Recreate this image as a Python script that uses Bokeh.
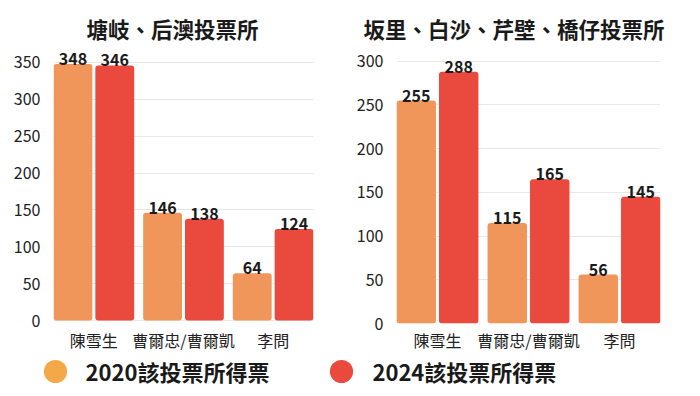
from bokeh.plotting import figure
from bokeh.models import (FactorRange, Range1d, ColumnDataSource, Legend, LegendItem,
                          FixedTicker)
from bokeh.transform import dodge
from bokeh.layouts import column, row
from bokeh.embed import file_html
from bokeh.resources import INLINE
from bokeh.core.properties import value

# ---------------- data ----------------
candidates = ["陳雪生", "曹爾忠/曹爾凱", "李問"]
series = ["2020該投票所得票", "2024該投票所得票"]

left_title = "塘岐、后澳投票所"
left_2020 = [348, 146, 64]
left_2024 = [346, 138, 124]
left_ticks = [0, 50, 100, 150, 200, 250, 300, 350]

right_title = "坂里、白沙、芹壁、橋仔投票所"
right_2020 = [255, 115, 56]
right_2024 = [288, 165, 145]
right_ticks = [0, 50, 100, 150, 200, 250, 300]

# ---------------- style ----------------
FONT = "Noto Sans CJK TC"
C2020 = "#F0965A"
C2024 = "#EA4A3E"
L2020 = "#F4A848"
L2024 = "#EA4A3E"
TXT = "#1a1a1a"
TOP_H = 354


def make_chart(title, v20, v24, ystart, ymax, ticks, bl, br, bt, bb, title_offset):
    src = ColumnDataSource(dict(
        cand=candidates, v20=v20, v24=v24,
        t20=[str(v) for v in v20], t24=[str(v) for v in v24]))
    p = figure(
        x_range=FactorRange(factors=candidates, range_padding=-0.05,
                            range_padding_units="absolute"),
        y_range=Range1d(ystart, ymax),
        width=350, height=TOP_H, output_backend="svg", toolbar_location=None,
        min_border_left=bl, min_border_right=br, min_border_top=bt,
        min_border_bottom=bb)
    p.outline_line_color = None
    p.background_fill_color = "white"
    p.border_fill_color = "white"

    x20 = dodge("cand", -0.2333, range=p.x_range)
    x24 = dodge("cand", 0.2333, range=p.x_range)
    p.vbar(x=x20, top="v20", bottom=0, width=0.4333, source=src,
           fill_color=C2020, line_color=None, border_radius=3)
    p.vbar(x=x24, top="v24", bottom=0, width=0.4333, source=src,
           fill_color=C2024, line_color=None, border_radius=3)
    for x, col in ((x20, "t20"), (x24, "t24")):
        p.text(x=x, y=col.replace("t", "v"), text=col, source=src,
               text_align="center", text_baseline="alphabetic", y_offset=-5,
               text_font=value(FONT), text_font_style="bold",
               text_font_size="16px", text_color=TXT)

    p.title.text = title
    p.title.text_font = FONT
    p.title.text_font_size = "21.5px"
    p.title.text_font_style = "bold"
    p.title.text_color = TXT
    p.title.align = "left"
    p.title.offset = title_offset
    p.title.standoff = 4

    p.xgrid.grid_line_color = None
    p.ygrid.grid_line_color = "#e8e8e8"
    p.yaxis.ticker = FixedTicker(ticks=ticks)
    for ax in (p.xaxis, p.yaxis):
        ax.axis_line_color = None
        ax.major_tick_line_color = None
        ax.minor_tick_line_color = None
        ax.major_tick_out = 0
        ax.major_tick_in = 0
        ax.minor_tick_out = 0
        ax.minor_tick_in = 0
        ax.major_label_text_font = FONT
        ax.major_label_text_font_size = "16px"
        ax.major_label_text_color = "#222222"
    p.xaxis.major_label_standoff = 4
    p.yaxis.major_label_standoff = 13
    return p


# both frames share the same bottom edge in a row; the left zero line sits 3px higher
p1 = make_chart(left_title, left_2020, left_2024, -4.05, 373, left_ticks,
                53, 37, 45, 30, 33)
p2 = make_chart(right_title, right_2020, right_2024, 0, 318, right_ticks,
                46, 40, 45, 30, -33)

# ---------------- legend strip ----------------
pl = figure(width=700, height=396 - TOP_H, output_backend="svg",
            toolbar_location=None,
            x_range=Range1d(0, 1), y_range=Range1d(0, 1),
            min_border=0, x_axis_type=None, y_axis_type=None)
pl.outline_line_color = None
pl.xgrid.visible = False
pl.ygrid.visible = False
# hidden placeholder points (outside the visible range) just to carry legend glyphs
r0 = pl.scatter(x=[-5], y=[-5], size=10, fill_color=L2020, line_color=None)
r1 = pl.scatter(x=[-5], y=[-5], size=10, fill_color=L2024, line_color=None)
legend = Legend(
    items=[LegendItem(label=series[0], renderers=[r0]),
           LegendItem(label=series[1], renderers=[r1])],
    orientation="horizontal", location=(25.5, -4),
    glyph_width=58, glyph_height=58, label_standoff=2, spacing=43,
    padding=0, margin=0, border_line_color=None, background_fill_alpha=0,
    label_text_font=FONT, label_text_font_size="22px",
    label_text_font_style="bold", label_text_color=TXT)
pl.add_layout(legend)

layout = column(row(p1, p2), pl)
open("out.html", "w").write(file_html(layout, INLINE))
